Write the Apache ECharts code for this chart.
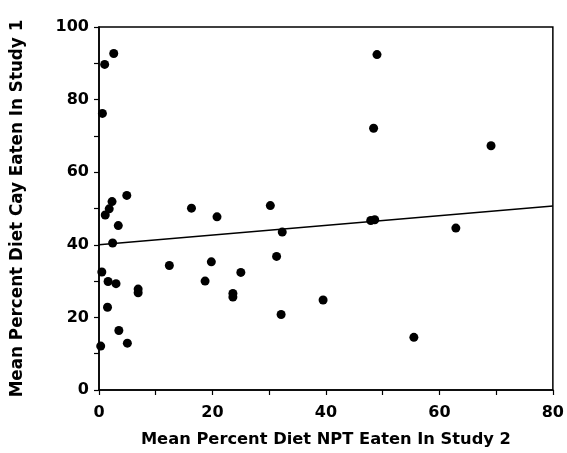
<!DOCTYPE html>
<html>
<head>
<meta charset="utf-8">
<script src="https://cdn.jsdelivr.net/npm/echarts@6/dist/echarts.min.js"></script>
<style>
  html, body { margin: 0; padding: 0; background: #fff; }
  #chart { width: 567px; height: 453px; }
</style>
</head>
<body>
<div id="chart"></div>
<script>
// Scatter data
var xValues = [2.6, 1.0, 0.6, 4.9, 2.3, 1.8, 1.1, 16.3, 20.8, 3.4, 2.4, 0.5, 1.6, 3.0, 6.9, 6.9,
               12.4, 19.8, 18.7, 25.0, 23.6, 23.6, 1.5, 3.5, 5.0, 0.3, 49.0, 48.4, 69.1, 30.2,
               32.3, 47.9, 48.6, 62.9, 31.3, 39.5, 32.1, 55.5];
var yValues = [92.7, 89.7, 76.2, 53.6, 51.9, 49.9, 48.2, 50.1, 47.7, 45.3, 40.5, 32.5, 29.9, 29.3, 27.8, 26.8,
               34.3, 35.3, 30.0, 32.4, 26.6, 25.6, 22.8, 16.4, 12.9, 12.1, 92.4, 72.1, 67.3, 50.8,
               43.5, 46.7, 46.9, 44.6, 36.8, 24.8, 20.8, 14.5];
// Regression line endpoints
var lineX = [0, 80];
var lineY = [40, 50.7];
// Axis titles
var xTitle = 'Mean Percent Diet NPT Eaten In Study 2';
var yTitle = 'Mean Percent Diet Cay Eaten In Study 1';

var points = xValues.map(function (x, i) { return [x, yValues[i]]; });
var linePts = lineX.map(function (x, i) { return [x, lineY[i]]; });

var FONT = 'DejaVu Sans';
var chart = echarts.init(document.getElementById('chart'), null, { renderer: 'canvas' });
chart.setOption({
  animation: false,
  backgroundColor: '#ffffff',
  grid: {
    left: 99, right: 12, top: 27, bottom: 63,
    show: true, borderColor: '#000', borderWidth: 1.5, backgroundColor: 'transparent'
  },
  xAxis: {
    type: 'value', min: 0, max: 80, interval: 20,
    name: xTitle, nameLocation: 'middle', nameGap: 42,
    nameTextStyle: { fontFamily: FONT, fontWeight: 'bold', fontSize: 16.3, color: '#000' },
    axisLine: { show: true, lineStyle: { color: '#000', width: 1.5 } },
    axisTick: { show: true, length: 5, lineStyle: { color: '#000', width: 1.2 } },
    minorTick: { show: true, splitNumber: 2, length: 5, lineStyle: { color: '#000', width: 1.2 } },
    splitLine: { show: false },
    axisLabel: { margin: 15, fontFamily: FONT, fontWeight: 'bold', fontSize: 16, color: '#000' }
  },
  yAxis: {
    type: 'value', min: 0, max: 100, interval: 20,
    name: yTitle, nameLocation: 'middle', nameGap: 73, nameRotate: 90,
    nameTextStyle: { fontFamily: FONT, fontWeight: 'bold', fontSize: 16.8, color: '#000' },
    axisLine: { show: true, lineStyle: { color: '#000', width: 1.5 } },
    axisTick: { show: true, length: 5, lineStyle: { color: '#000', width: 1.2 } },
    minorTick: { show: true, splitNumber: 2, length: 5, lineStyle: { color: '#000', width: 1.2 } },
    splitLine: { show: false },
    axisLabel: { margin: 10, fontFamily: FONT, fontWeight: 'bold', fontSize: 16, color: '#000' }
  },
  series: [
    {
      type: 'line',
      data: linePts,
      showSymbol: false,
      symbol: 'none',
      lineStyle: { color: '#000', width: 1.5 },
      silent: true,
      z: 1
    },
    {
      type: 'scatter',
      data: points,
      symbol: 'circle',
      symbolSize: 9,
      itemStyle: { color: '#000', opacity: 1 },
      z: 2
    }
  ]
});
</script>
</body>
</html>
